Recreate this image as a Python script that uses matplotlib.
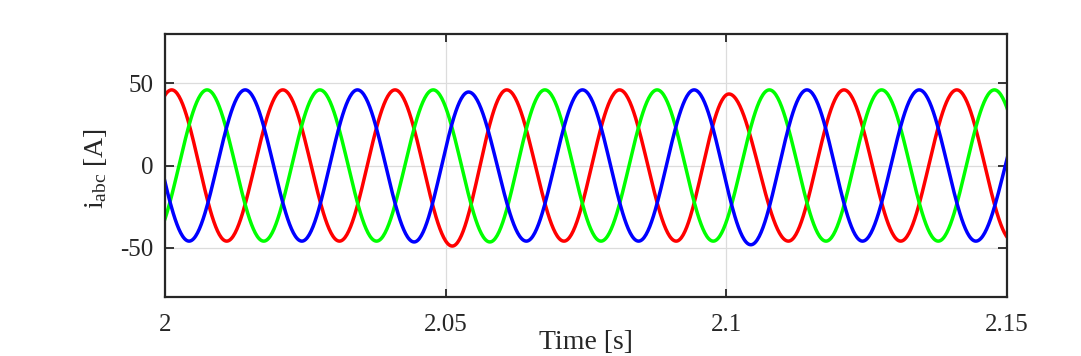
import numpy as np
import matplotlib
matplotlib.use("Agg")
import matplotlib.pyplot as plt

plt.rcParams['font.family'] = ['Liberation Serif', 'DejaVu Serif']
plt.rcParams['mathtext.fontset'] = 'custom'
plt.rcParams['mathtext.rm'] = 'Liberation Serif'
plt.rcParams['mathtext.it'] = 'Liberation Serif:italic'

# Extrema (time [s], current [A]), one pair of lists per phase
# (first and last entries lie just outside the visible window and are clipped)
red_t = [1.9912, 2.0012, 2.0110, 2.0210, 2.0311, 2.0410, 2.0512, 2.0609, 2.0711,
         2.0810, 2.0911, 2.1005, 2.1111, 2.1210, 2.1311, 2.1411, 2.1511]
red_v = [-46, 46, -46, 46, -46, 46, -49, 46, -46,
         46, -46, 43.5, -46, 46, -46, 46, -46]

green_t = [1.9975, 2.0075, 2.0176, 2.0276, 2.0377, 2.0478, 2.0579, 2.0677, 2.0777,
           2.0877, 2.0977, 2.1077, 2.1178, 2.1277, 2.1378, 2.1478, 2.1578]
green_v = [-46, 46, -46, 46, -46, 46, -46.5, 46, -46,
           46, -46, 46, -46, 46, -46, 46, -46]

blue_t = [1.9943, 2.0043, 2.0143, 2.0244, 2.0343, 2.0444, 2.0541, 2.0644, 2.0744,
          2.0844, 2.0943, 2.1044, 2.1144, 2.1243, 2.1344, 2.1445, 2.1550]
blue_v = [46, -46, 46, -46, 46, -46.5, 44.7, -46, 46,
          -46, 46, -48.2, 46, -46, 46, -46, 46]

x_ticks = [2, 2.05, 2.1, 2.15]
x_ticklabels = ['2', '2.05', '2.1', '2.15']
y_ticks = [-50, 0, 50]
y_ticklabels = ['-50', '0', '50']


def wave(ts, vs, n=60):
    """Join successive extrema with half-cosine arcs."""
    tt, vv = [], []
    for (t0, v0, t1, v1) in zip(ts[:-1], vs[:-1], ts[1:], vs[1:]):
        s = np.linspace(0, 1, n, endpoint=False)
        tt.append(t0 + s * (t1 - t0))
        vv.append((v0 + v1) / 2 + (v0 - v1) / 2 * np.cos(np.pi * s))
    tt.append([ts[-1]])
    vv.append([vs[-1]])
    return np.concatenate(tt), np.concatenate(vv)


fig = plt.figure(figsize=(10.81, 3.56), dpi=100)
ax = fig.add_axes([0.1526, 0.1657, 0.7787, 0.7388])

for ts, vs, c in [(red_t, red_v, '#ff0000'), (green_t, green_v, '#00ff00'),
                  (blue_t, blue_v, '#0000ff')]:
    t, v = wave(ts, vs)
    ax.plot(t, v, color=c, lw=2.5, solid_capstyle='butt')

ax.set_xlim(2, 2.15)
ax.set_ylim(-80, 80)
ax.set_xticks(x_ticks)
ax.set_xticklabels(x_ticklabels)
ax.set_yticks(y_ticks)
ax.set_yticklabels(y_ticklabels)
ax.grid(True, color='#dcdcdc', lw=0.9)
ax.set_axisbelow(True)
for s in ax.spines.values():
    s.set_color('#262626')
    s.set_linewidth(1.6)
ax.tick_params(axis='both', direction='in', top=True, right=True, colors='#262626',
               labelcolor='#262626', labelsize=18, width=1.3)
ax.tick_params(axis='x', length=6, pad=12)
ax.tick_params(axis='y', length=6.5, pad=8)

ax.set_xlabel('Time [s]', fontsize=20, color='#262626')
ax.xaxis.set_label_coords(0.5, -0.125)
ax.set_ylabel(r'i$_{\mathrm{abc}}$ [A]', fontsize=20, color='#262626')
ax.yaxis.set_label_coords(-0.067, 0.49)

fig.savefig('out.png', dpi=100)
